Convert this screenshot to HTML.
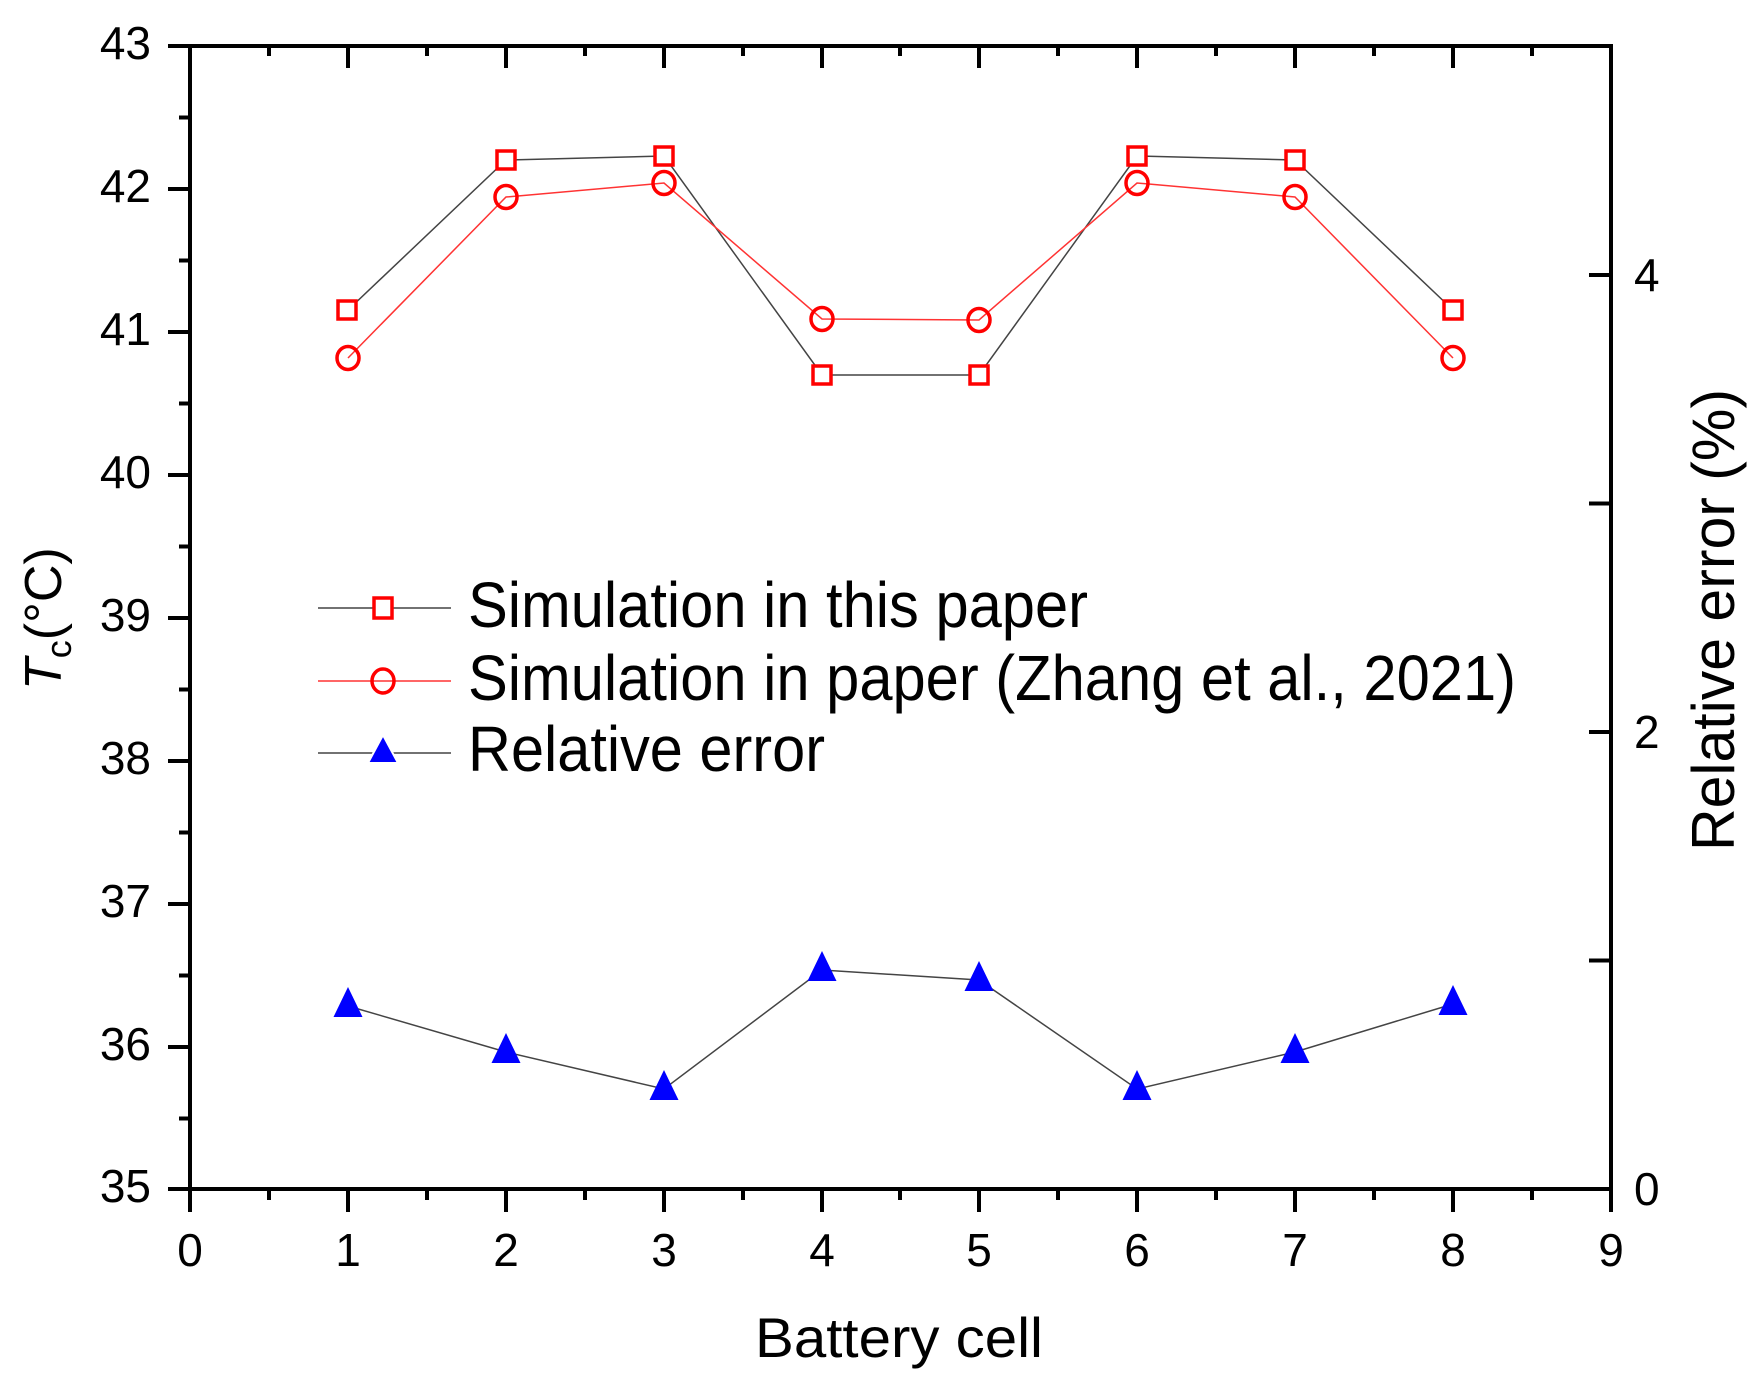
<!DOCTYPE html>
<html><head><meta charset="utf-8"><style>html,body{margin:0;padding:0;background:#fff}svg{display:block}</style></head>
<body>
<svg width="1758" height="1389" viewBox="0 0 1758 1389" xmlns="http://www.w3.org/2000/svg" font-family="Liberation Sans, Arial, sans-serif">
<rect width="1758" height="1389" fill="#fff"/>
<rect x="190" y="46" width="1421" height="1143" fill="none" stroke="#000" stroke-width="4"/>
<g stroke="#000" stroke-width="4">
<path d="M168 46H190M168 189H190M168 332H190M168 475H190M168 618H190M168 761H190M168 904H190M168 1047H190M168 1189H190"/>
<path d="M179 117.5H190M179 260.5H190M179 403.5H190M179 546.5H190M179 689.5H190M179 832.5H190M179 975.5H190M179 1118.5H190"/>
<path d="M190 1189V1212M348 1189V1212M506 1189V1212M664 1189V1212M822 1189V1212M979 1189V1212M1137 1189V1212M1295 1189V1212M1453 1189V1212M1611 1189V1212"/>
<path d="M269 1189V1200M427 1189V1200M585 1189V1200M743 1189V1200M900 1189V1200M1058 1189V1200M1216 1189V1200M1374 1189V1200M1532 1189V1200"/>
<path d="M348 46V68M506 46V68M664 46V68M822 46V68M979 46V68M1137 46V68M1295 46V68M1453 46V68"/>
<path d="M269 46V56M427 46V56M585 46V56M743 46V56M900 46V56M1058 46V56M1216 46V56M1374 46V56M1532 46V56"/>
<path d="M1589 1189H1611M1589 732H1611M1589 275H1611M1589 503.5H1611M1589 960.5H1611"/>
</g>
<g font-size="46" text-anchor="end" fill="#000">
<text x="151" y="59">43</text><text x="151" y="202">42</text><text x="151" y="345">41</text><text x="151" y="488">40</text><text x="151" y="631">39</text><text x="151" y="774">38</text><text x="151" y="917">37</text><text x="151" y="1060">36</text><text x="151" y="1202">35</text>
</g>
<g font-size="46" text-anchor="middle" fill="#000">
<text x="190" y="1266">0</text><text x="348" y="1266">1</text><text x="506" y="1266">2</text><text x="664" y="1266">3</text><text x="822" y="1266">4</text><text x="979" y="1266">5</text><text x="1137" y="1266">6</text><text x="1295" y="1266">7</text><text x="1453" y="1266">8</text><text x="1611" y="1266">9</text>
</g>
<g font-size="46" fill="#000">
<text x="1634" y="1205">0</text><text x="1634" y="748">2</text><text x="1634" y="291">4</text>
</g>
<text x="755" y="1357" font-size="56" textLength="288" lengthAdjust="spacingAndGlyphs">Battery cell</text>
<text transform="translate(1734,851) rotate(-90)" font-size="60" textLength="462" lengthAdjust="spacingAndGlyphs">Relative error (%)</text>
<text transform="translate(61,690) rotate(-90)" font-size="52"><tspan font-style="italic">T</tspan><tspan font-size="36" dy="10">c</tspan><tspan dy="-10">(°C)</tspan></text>
<polyline fill="none" stroke="#444" stroke-width="1.5" points="348,310 506,160 664,156 822,375 979,375 1137,156 1295,160 1453,310"/>
<polyline fill="none" stroke="#f33" stroke-width="1.5" points="348,358 506,197 664,183 822,319 979,320 1137,183 1295,197 1453,358"/>
<polyline fill="none" stroke="#444" stroke-width="1.5" points="348,1006 506,1052 664,1089 822,970 979,980 1137,1089 1295,1052 1453,1004"/>
<g fill="#fff" stroke="#f00" stroke-width="3.5">
<rect x="338" y="301" width="18" height="18"/><rect x="497" y="151" width="18" height="18"/><rect x="655" y="147" width="18" height="18"/><rect x="813" y="366" width="18" height="18"/><rect x="970" y="366" width="18" height="18"/><rect x="1128" y="147" width="18" height="18"/><rect x="1286" y="151" width="18" height="18"/><rect x="1444" y="301" width="18" height="18"/>
</g>
<g fill="none" stroke="#f00" stroke-width="3.5">
<ellipse cx="348" cy="358" rx="11" ry="11.5"/><ellipse cx="506" cy="197" rx="11" ry="11.5"/><ellipse cx="664" cy="183" rx="11" ry="11.5"/><ellipse cx="822" cy="319" rx="11" ry="11.5"/><ellipse cx="979" cy="320" rx="11" ry="11.5"/><ellipse cx="1137" cy="183" rx="11" ry="11.5"/><ellipse cx="1295" cy="197" rx="11" ry="11.5"/><ellipse cx="1453" cy="358" rx="11" ry="11.5"/>
</g>
<g fill="#00f">
<path d="M348 987l14.5 30h-29z"/><path d="M506 1033l14.5 30h-29z"/><path d="M664 1070l14.5 30h-29z"/><path d="M822 951l14.5 30h-29z"/><path d="M979 961l14.5 30h-29z"/><path d="M1137 1070l14.5 30h-29z"/><path d="M1295 1033l14.5 30h-29z"/><path d="M1453 985l14.5 30h-29z"/>
</g>
<line x1="318" y1="608" x2="451" y2="608" stroke="#444" stroke-width="1.5"/>
<rect x="374" y="598" width="18" height="20" fill="#fff" stroke="#f00" stroke-width="3.5"/>
<line x1="318" y1="681" x2="451" y2="681" stroke="#f33" stroke-width="1.5"/>
<ellipse cx="383" cy="681" rx="11" ry="12" fill="none" stroke="#f00" stroke-width="3.5"/>
<line x1="318" y1="753" x2="451" y2="753" stroke="#444" stroke-width="1.5"/>
<path d="M383 735l15 28h-30z" fill="#00f" stroke="#fff" stroke-width="2"/>
<g font-size="64" fill="#000">
<text x="468" y="627" textLength="620" lengthAdjust="spacingAndGlyphs">Simulation in this paper</text>
<text x="468" y="700" textLength="1048" lengthAdjust="spacingAndGlyphs">Simulation in paper (Zhang et al., 2021)</text>
<text x="468" y="771" textLength="357" lengthAdjust="spacingAndGlyphs">Relative error</text>
</g>
</svg>
</body></html>
